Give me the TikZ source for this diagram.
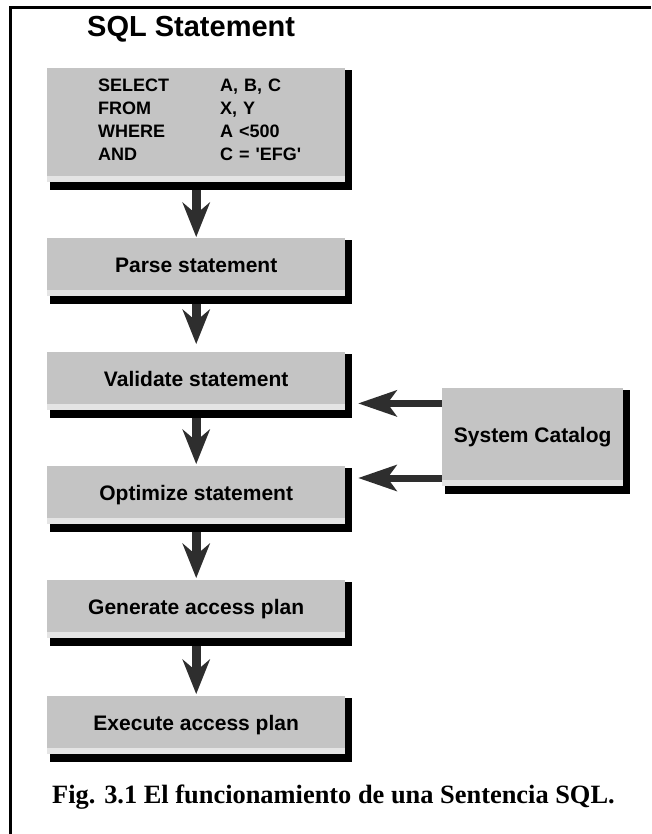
\documentclass[tikz,border=0pt]{standalone}
\usepackage{fontspec}
\setmainfont{Liberation Serif}
\setsansfont{Liberation Sans}
\usetikzlibrary{arrows.meta}
\definecolor{boxgray}{HTML}{C4C4C4}
\definecolor{stripgray}{HTML}{E4E4E4}
\definecolor{arrowdark}{HTML}{2E2E2E}
\newcommand{\sqlrow}[2]{\makebox[122pt][l]{#1}\makebox[74pt][l]{#2}}
\begin{document}
\begin{tikzpicture}[x=1pt,y=-1pt,
  stepbox/.style={fill=boxgray, draw=none, anchor=north west, minimum width=298pt,
    minimum height=58pt, inner sep=0pt, font=\sffamily\bfseries\fontsize{21}{25}\selectfont},
  oneline/.style={text height=15pt, text depth=4pt},
  varrow/.style={arrowdark, line width=9pt,
    -{Stealth[length=35pt, width=28pt, inset=12pt, line width=0pt]}},
  harrow/.style={arrowdark, line width=7pt,
    -{Stealth[length=39pt, width=27pt, inset=10pt, line width=0pt]}},
  frameline/.style={line width=3.5pt},
]
\useasboundingbox (0,0) rectangle (651,834);

% frame (top and left only)
\draw[frameline] (10.5,834) -- (10.5,7.5) -- (651,7.5);

% title
\node[anchor=base west, inner sep=0pt, font=\sffamily\bfseries\fontsize{29}{33}\selectfont]
  (title) at (87,37) {SQL Statement};

% boxes
\node[stepbox, minimum height=114pt, align=left, text width=196pt, inner xsep=51pt,
  font=\sffamily\bfseries\fontsize{18}{23}\selectfont] (sql) at (47,68)
  {\sqlrow{SELECT}{A, B, C}\\
   \sqlrow{FROM}{X, Y}\\
   \sqlrow{WHERE}{A <500}\\
   \sqlrow{AND}{C = \textquotesingle EFG\textquotesingle}\rule[-10pt]{0pt}{10pt}};
\node[stepbox, oneline] (parse)    at (47,238) {Parse statement};
\node[stepbox, oneline] (validate) at (47,352) {Validate statement};
\node[stepbox, oneline] (optimize) at (47,466) {Optimize statement};
\node[stepbox, oneline] (generate) at (47,580) {Generate access plan};
\node[stepbox, oneline] (execute)  at (47,696) {Execute access plan};
\node[stepbox, oneline, minimum width=181pt, minimum height=98pt] (catalog) at (442,388) {System Catalog};

% light strips and black shadows
\foreach \n in {sql,parse,validate,optimize,generate,execute,catalog}{
  \fill[stripgray] ([yshift=6pt]\n.south west) rectangle (\n.south east);
  \fill[black] ([yshift=-2pt]\n.north east) rectangle ([xshift=7pt,yshift=-8pt]\n.south east);
  \fill[black] ([xshift=3pt]\n.south west) rectangle ([xshift=7pt,yshift=-8pt]\n.south east);
}

% vertical connectors
\draw[varrow] ([yshift=-8pt]sql.south) -- ([yshift=1pt]parse.north);
\draw[varrow] ([yshift=-8pt]parse.south) -- ([yshift=8pt]validate.north);
\draw[varrow] ([yshift=-8pt]validate.south) -- ([yshift=2pt]optimize.north);
\draw[varrow] ([yshift=-8pt]optimize.south) -- ([yshift=2pt]generate.north);
\draw[varrow] ([yshift=-8pt]generate.south) -- ([yshift=2pt]execute.north);

% horizontal connectors from the catalog
\coordinate (va) at ([xshift=13pt,yshift=7pt]validate.south east);
\coordinate (oa) at ([xshift=13pt,yshift=-12pt]optimize.north east);
\draw[harrow] (catalog.west |- va) -- (va);
\draw[harrow] (catalog.west |- oa) -- (oa);

% caption
\node[anchor=base west, inner sep=0pt, font=\rmfamily\bfseries\fontsize{26.4}{30}\selectfont]
  (caption) at (52,803) {Fig. 3.1 El funcionamiento de una Sentencia SQL.};
\end{tikzpicture}
\end{document}
